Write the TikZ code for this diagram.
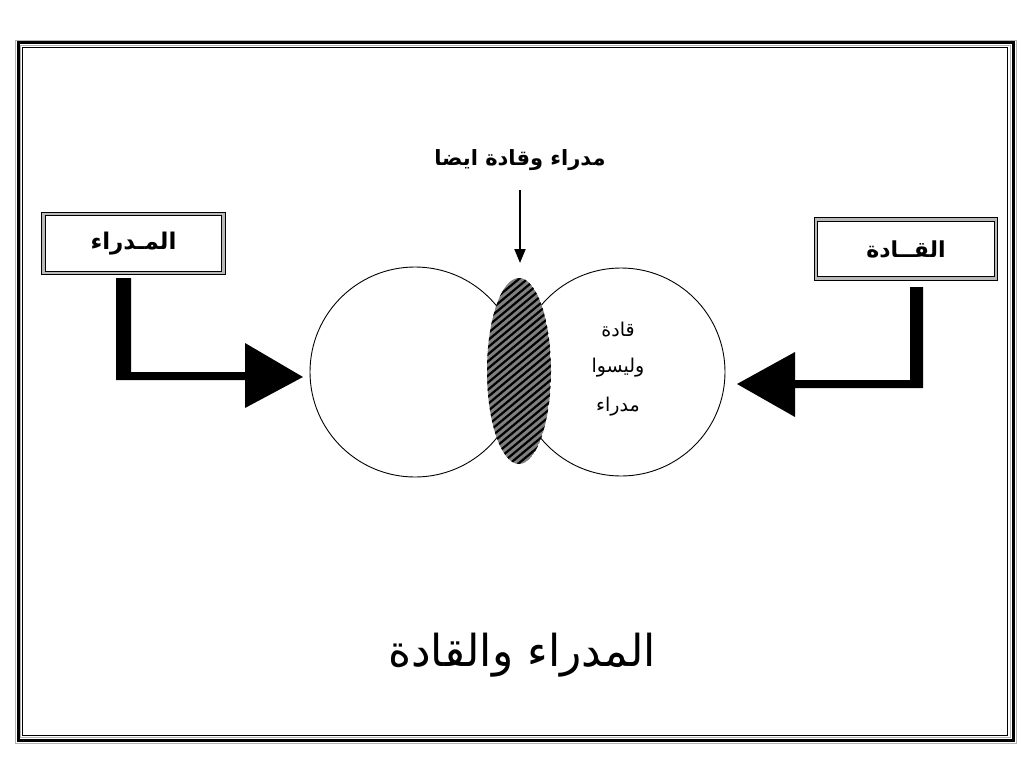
\documentclass[tikz,border=0pt]{standalone}
\usepackage{fontspec}
\usetikzlibrary{arrows.meta,calc}
\TeXXeTstate=1
\newfontfamily\ar[Script=Arabic]{DejaVu Sans}
\tikzset{
  dbox/.style={draw=black, line width=1.3pt, double=gray!55, double distance=2.2pt,
     minimum width=180pt, minimum height=59pt, inner sep=0pt, fill=white, font=\ar\bfseries\fontsize{23}{27}\selectfont},
  venn/.style={draw=black, line width=0.9pt, circle, inner sep=0pt},
  inlabel/.style={font=\ar\fontsize{19}{22}\selectfont, inner sep=0pt},
  bigarrow/.style={fill=black},
}
\begin{document}
\begin{tikzpicture}[x=1pt,y=-1pt]
\useasboundingbox (0,0) rectangle (1024,768);
\fill[white] (0,0) rectangle (1024,768);
% frame
\draw[gray!60, line width=0.8pt] (15.5,40.5) rectangle (1016,743);
\draw[black, line width=3pt] (18,43) rectangle (1013,740);
\draw[gray!60, line width=0.8pt] (20.5,45.5) rectangle (1010.5,737.5);
\draw[black, line width=1.3pt] (22.5,47.5) rectangle (1007.5,735.5);
% circles
\node[venn, minimum size=210pt] (lc) at (415,372) {};
\node[venn, minimum size=208pt] (rc) at (621,372) {};
% hatched intersection
\coordinate (mid) at (519,371);
\begin{scope}
  \clip (mid) ellipse [x radius=32pt, y radius=93pt];
  \fill[gray] (mid) ellipse [x radius=32pt, y radius=93pt];
  \foreach \k in {-30,...,30}{
    \draw[black, line width=2.2pt] ($(mid)+(\k*8.5-120,100)$) -- ++(240,-200);
  }
\end{scope}
% boxes
\node[dbox] (lbox) at (133.5,243.5) {\beginR المـدراء\endR};
\node[dbox, font=\ar\bfseries\fontsize{22}{26}\selectfont] (rbox) at (906,249) {\beginR القــادة\endR};
% top label and arrow
\node[font=\ar\bfseries\fontsize{21}{25}\selectfont, inner sep=0pt] (top) at (520,160) {\beginR مدراء وقادة ايضا\endR};
\coordinate (topend) at (520,263);
\draw[black, line width=2pt, -{Triangle[length=14pt,width=11pt]}] (520,190) -- (topend);
% text in right circle
\node[inlabel] (t1) at (618,330) {\beginR قادة\endR};
\node[inlabel] (t2) at (618,368) {\beginR وليسوا\endR};
\node[inlabel] (t3) at (618,407) {\beginR مدراء\endR};
% left L arrow
\fill[bigarrow] (116,278) -- (131,278) -- (131,372) -- (245,372) -- (245,343) -- (303,377) -- (245,408) -- (245,380) -- (116,380) -- cycle;
% right L arrow
\fill[bigarrow] (910,287) -- (923,287) -- (923,388) -- (795,388) -- (795,417) -- (737,384) -- (795,352) -- (795,380) -- (910,380) -- cycle;
% title
\node[font=\ar\fontsize{44}{52}\selectfont, inner sep=0pt] (title) at (522,655) {\beginR المدراء والقادة\endR};
\end{tikzpicture}
\end{document}
